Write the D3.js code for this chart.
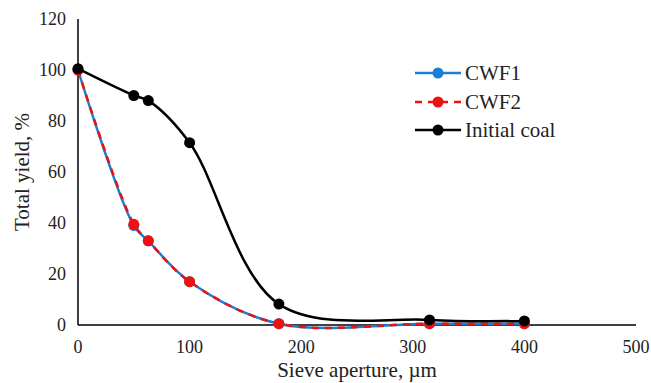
<!DOCTYPE html>
<html><head><meta charset="utf-8">
<script src="https://cdn.jsdelivr.net/npm/d3@7"></script>
<style>body{margin:0;background:#fff}svg{display:block}</style>
</head><body>
<svg id="c" width="651" height="383"></svg>
<script>
const aperture = [0, 50, 63, 100, 180, 315, 400];
const cwf1 = [100, 39, 33, 17, 0.5, 0.5, 0.5];
const cwf2 = [100, 39.5, 33, 17, 0.5, 0.5, 0.5];
const initialCoal = [100.5, 90, 88, 71.5, 8.2, 2, 1.6];
const xTicks = [0, 100, 200, 300, 400, 500];
const yTicks = [0, 20, 40, 60, 80, 100, 120];
const seriesNames = ["CWF1", "CWF2", "Initial coal"];
const seriesColors = ["#1a7fd4", "#ee1111", "#000000"];

const svg = d3.select("#c");
const x = d3.scaleLinear().domain([0, 500]).range([78, 636]);
const y = d3.scaleLinear().domain([0, 120]).range([325, 19]);

function txt(sel) { return sel.attr("font-family", "Liberation Serif").attr("fill", "#222"); }

svg.append("line").attr("x1", x(0)).attr("x2", x(0)).attr("y1", y(120)).attr("y2", y(0)).attr("stroke", "#000").attr("stroke-width", 1.5);
svg.append("line").attr("x1", x(0)).attr("x2", x(500)).attr("y1", y(0)).attr("y2", y(0)).attr("stroke", "#000").attr("stroke-width", 1.5);

txt(svg.selectAll(".yt").data(yTicks).enter().append("text"))
  .attr("x", 66).attr("y", d => y(d) + 6).attr("text-anchor", "end").attr("font-size", 18).text(d => d);
txt(svg.selectAll(".xt").data(xTicks).enter().append("text"))
  .attr("x", d => x(d)).attr("y", 353).attr("text-anchor", "middle").attr("font-size", 18).text(d => d);

txt(svg.append("text")).attr("x", 357).attr("y", 377).attr("text-anchor", "middle").attr("font-size", 21).text("Sieve aperture, µm");
txt(svg.append("text")).attr("transform", "translate(29,172) rotate(-90)").attr("text-anchor", "middle").attr("font-size", 21).text("Total yield, %");

const line = d3.line().x(d => x(d[0])).y(d => y(d[1])).curve(d3.curveCatmullRom.alpha(0.5));
const series = [cwf1, cwf2, initialCoal];
const dash = [null, "7,6", null];
series.forEach((vals, i) => {
  const pts = aperture.map((a, j) => [a, vals[j]]);
  svg.append("path").attr("d", line(pts)).attr("fill", "none").attr("stroke", seriesColors[i]).attr("stroke-width", 2.5)
    .attr("stroke-dasharray", dash[i]);
  svg.selectAll(".p" + i).data(pts).enter().append("circle")
    .attr("cx", d => x(d[0])).attr("cy", d => y(d[1])).attr("r", 5.5).attr("fill", seriesColors[i]);
});

const ly = [73, 102, 130];
seriesNames.forEach((n, i) => {
  svg.append("line").attr("x1", 415).attr("x2", 461).attr("y1", ly[i]).attr("y2", ly[i])
    .attr("stroke", seriesColors[i]).attr("stroke-width", 2.5).attr("stroke-dasharray", dash[i] ? "7,6" : null);
  svg.append("circle").attr("cx", 438).attr("cy", ly[i]).attr("r", 5.5).attr("fill", seriesColors[i]);
  txt(svg.append("text")).attr("x", 465).attr("y", ly[i] + 7).attr("font-size", 21).text(n);
});
</script>
</body></html>
